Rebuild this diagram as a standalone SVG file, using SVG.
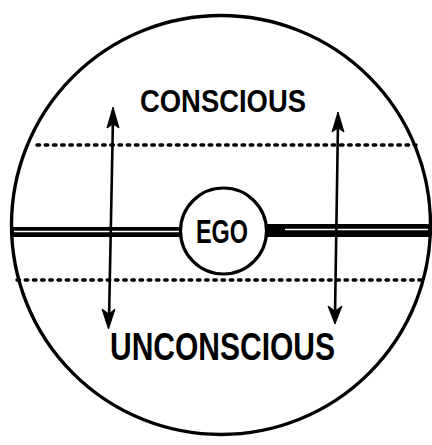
<svg xmlns="http://www.w3.org/2000/svg" width="432" height="445" viewBox="0 0 432 445">
<style>
.ln{fill:none;stroke:#000;stroke-width:3.4}
.dot{fill:none;stroke:#000;stroke-width:3.4;stroke-dasharray:2.6 5.6;stroke-linecap:round}
.shaft{fill:none;stroke:#000;stroke-width:2.6}
.head{fill:#000;stroke:#000;stroke-width:1;stroke-linejoin:round}
.lbl{font-family:"Liberation Sans","DejaVu Sans",sans-serif;font-weight:bold;fill:#000}
</style>
<rect width="432" height="445" fill="#fff"/>
<g id="psyche">
<circle class="ln" cx="221" cy="225" r="209.5"/>
</g>
<g id="thresholds">
<line class="dot" x1="37" y1="145" x2="416" y2="145"/>
<line class="dot" x1="17" y1="280" x2="425" y2="280"/>
</g>
<g id="connectors">
<rect x="12" y="227" width="170" height="10" fill="#000"/>
<line x1="14" y1="231.5" x2="180" y2="231.5" stroke="#fff" stroke-width="1.3"/>
<rect x="265" y="224" width="165" height="13" fill="#000"/>
<line x1="285" y1="229.5" x2="428" y2="229.5" stroke="#fff" stroke-width="1.3"/>
<line class="shaft" x1="113" y1="118" x2="109" y2="320"/>
<path class="head" d="M113,107 L119,128 L113,124 L107,128 Z"/>
<path class="head" d="M108.5,329 L102,309 L108.8,314 L115,309 Z"/>
<line class="shaft" x1="338" y1="122" x2="335" y2="315"/>
<path class="head" d="M338,112 L344,132 L338,128 L332,132 Z"/>
<path class="head" d="M335,324 L328,306 L335,311 L342,306 Z"/>
</g>
<g id="ego">
<circle cx="223.5" cy="231" r="43" fill="#fff" stroke="#000" stroke-width="3.2"/>
<text class="lbl" x="222" y="243" font-size="33" text-anchor="middle" textLength="52" lengthAdjust="spacingAndGlyphs">EGO</text>
</g>
<g id="conscious">
<text class="lbl" x="223" y="112" font-size="32" text-anchor="middle" textLength="166" lengthAdjust="spacingAndGlyphs">CONSCIOUS</text>
</g>
<g id="unconscious">
<text class="lbl" x="222.5" y="360" font-size="39" text-anchor="middle" textLength="225" lengthAdjust="spacingAndGlyphs">UNCONSCIOUS</text>
</g>
</svg>
